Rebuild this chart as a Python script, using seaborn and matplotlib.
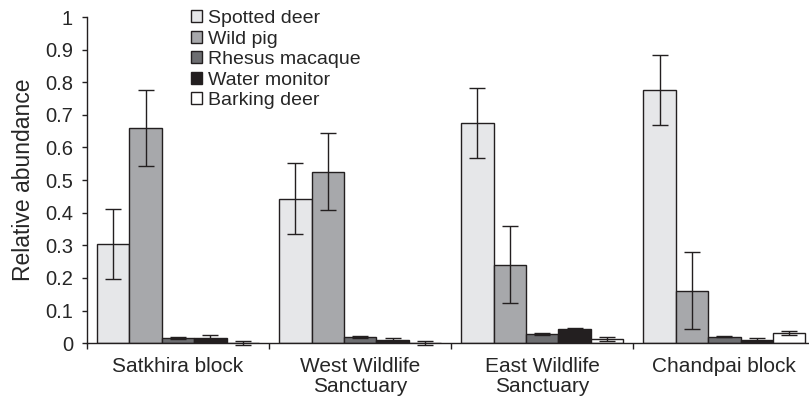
import numpy as np
import pandas as pd
import matplotlib
matplotlib.use("Agg")
import matplotlib.pyplot as plt
import seaborn as sns

# Data
sites = ["Satkhira block", "West Wildlife\nSanctuary", "East Wildlife\nSanctuary", "Chandpai block"]
species = ["Spotted deer", "Wild pig", "Rhesus macaque", "Water monitor", "Barking deer"]
spotted_deer = [0.305, 0.443, 0.675, 0.777]
wild_pig = [0.660, 0.525, 0.240, 0.160]
rhesus_macaque = [0.017, 0.020, 0.028, 0.020]
water_monitor = [0.017, 0.010, 0.042, 0.010]
barking_deer = [0.000, 0.000, 0.013, 0.030]

spotted_deer_err = [0.107, 0.108, 0.108, 0.108]
wild_pig_err = [0.117, 0.118, 0.118, 0.118]
rhesus_macaque_err = [0.003, 0.003, 0.003, 0.002]
water_monitor_err = [0.007, 0.006, 0.005, 0.005]
barking_deer_err = [0.006, 0.006, 0.006, 0.006]

values = [spotted_deer, wild_pig, rhesus_macaque, water_monitor, barking_deer]
errors = [spotted_deer_err, wild_pig_err, rhesus_macaque_err, water_monitor_err, barking_deer_err]
colors = ["#e6e7e9", "#a7a8ab", "#6d6e71", "#231f20", "#ffffff"]

rows = []
for sp, vals, errs in zip(species, values, errors):
    for site, v, e in zip(sites, vals, errs):
        rows.append({"site": site, "species": sp, "abundance": v, "err": e})
df = pd.DataFrame(rows)

sns.set_style("ticks")
plt.rcParams["font.family"] = ["Liberation Sans", "DejaVu Sans"]

fig = plt.figure(figsize=(8.09, 4.07), dpi=100)
ax = fig.add_axes([0.1075, 0.157, 0.8915, 0.801])

sns.barplot(data=df, x="site", y="abundance", hue="species", order=sites,
            hue_order=species, palette=colors, width=0.89, errorbar=None,
            edgecolor="#231f20", linewidth=1.0, saturation=1, ax=ax)

# error bars, from the bar positions the library placed
for cont, sp in zip(ax.containers, species):
    errs = df[df["species"] == sp].set_index("site").loc[sites, "err"].values
    xs = [p.get_x() + p.get_width() / 2 for p in cont.patches]
    hs = [p.get_height() for p in cont.patches]
    eb = ax.errorbar(xs, hs, yerr=errs, fmt="none", ecolor="#231f20",
                     elinewidth=1.0, capsize=6, capthick=1.0, zorder=5)
    for art in eb.lines[1] + eb.lines[2]:
        art.set_clip_on(False)

ax.set_ylim(0, 1)
ax.set_yticks(np.arange(0, 1.01, 0.1))
ax.set_yticklabels(["0"] + [f"{v:.1f}" for v in np.arange(0.1, 0.95, 0.1)] + ["1"])
ax.set_xlim(-0.5, 3.46)

# group boundary ticks, labels centred without tick marks
ax.set_xticks([-0.5, 0.5, 1.5, 2.5])
ax.set_xticklabels([])
ax.set_xticks(range(len(sites)), minor=True)
ax.set_xticklabels(sites, minor=True, fontsize=15, linespacing=1.1)
ax.tick_params(axis="x", which="minor", length=0, pad=10)
ax.tick_params(axis="x", which="major", length=4, width=1, color="#231f20", direction="out")
ax.tick_params(axis="y", length=3.6, width=1, color="#231f20", labelsize=14.5, pad=6.5)

ax.set_xlabel("")
ax.set_ylabel("Relative abundance", fontsize=16.5, labelpad=7)

for s in ["left", "bottom"]:
    ax.spines[s].set_color("#231f20")
    ax.spines[s].set_linewidth(1.0)
sns.despine(ax=ax)

handles, labels = ax.get_legend_handles_labels()
ax.legend(handles, labels, loc="upper left", bbox_to_anchor=(0.134, 1.045),
          frameon=False, fontsize=14, handlelength=0.55, handleheight=0.55,
          handletextpad=0.3, labelspacing=0.18, borderaxespad=0)

fig.savefig("out.png", dpi=100)
